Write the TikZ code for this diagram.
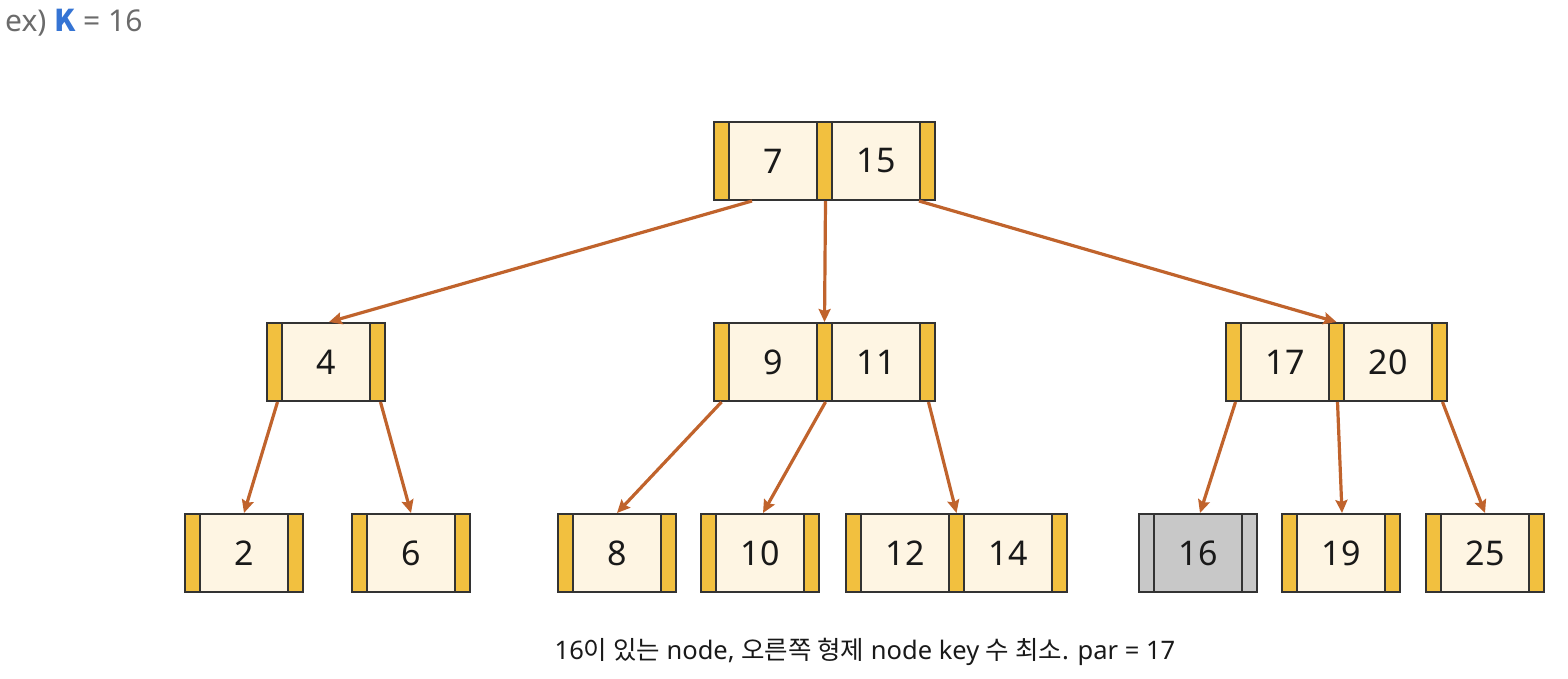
\documentclass[tikz,border=0pt]{standalone}
\usepackage{fontspec}
\setmainfont{Noto Sans}
\newfontfamily\kr{Noto Sans CJK KR}
\usetikzlibrary{arrows.meta}
\definecolor{barY}{HTML}{F2C03F}
\definecolor{cellC}{HTML}{FEF5E3}
\definecolor{edgeK}{HTML}{333333}
\definecolor{grayN}{HTML}{C8C8C8}
\definecolor{arrowC}{HTML}{C0632C}
\definecolor{headG}{HTML}{6B6B6B}
\definecolor{blueK}{HTML}{3574D4}
\tikzset{
  bar/.style={draw=edgeK, fill=barY, line width=2pt, minimum width=15pt, minimum height=78pt, inner sep=0pt, anchor=north west},
  cell/.style={draw=edgeK, fill=cellC, line width=2pt, minimum width=88pt, minimum height=78pt, inner sep=0pt, anchor=north west, font=\fontsize{34}{38}\selectfont, text=black!90},
  link/.style={draw=arrowC, line width=3.2pt, -{Stealth[length=13pt,width=12pt,inset=2pt]}},
}
\newcommand\onekey[5][]{%
  \node[bar,#1] (#2-b0) at (#3,#4) {};
  \node[cell,#1] (#2-k1) at ({#3+15},#4) {#5};
  \node[bar,#1] (#2-b1) at ({#3+103},#4) {};
}
\newcommand\twokey[5]{%
  \node[bar] (#1-b0) at (#2,#3) {};
  \node[cell] (#1-k1) at ({#2+15},#3) {#4};
  \node[bar] (#1-b1) at ({#2+103},#3) {};
  \node[cell] (#1-k2) at ({#2+118},#3) {#5};
  \node[bar] (#1-b2) at ({#2+206},#3) {};
}
\begin{document}
\begin{tikzpicture}[x=1pt,y=-1pt]
\useasboundingbox (0,0) rectangle (1568,678);
% header
\node[anchor=base west, inner sep=0pt, text=headG, font=\fontsize{30}{34}\selectfont] (hdr) at (5,31) {ex) {\color{blueK}\kr\bfseries K} = 16};
% level 1
\twokey{r}{713}{121}{7}{15}
% level 2
\onekey{a}{266}{322}{4}
\twokey{b}{713}{322}{9}{11}
\twokey{c}{1225}{322}{17}{20}
% level 3
\onekey{d}{184}{513}{2}
\onekey{e}{351}{513}{6}
\onekey{f}{557}{513}{8}
\onekey{g}{700}{513}{10}
\twokey{h}{845}{513}{12}{14}
\onekey[fill=grayN]{i}{1138}{513}{16}
\onekey{j}{1281}{513}{19}
\onekey{k}{1425}{513}{25}
% connectors
\draw[link] ([xshift=24pt]r-k1.south west) -- ([xshift=3pt]a-k1.north);
\draw[link] ([xshift=1pt]r-b1.south) -- (b-b1.north);
\draw[link] (r-b2.south west) -- (c-b1.north);
\draw[link] ([xshift=3pt]a-b0.south) -- (d-k1.north);
\draw[link] ([xshift=3pt]a-b1.south) -- (e-k1.north);
\draw[link] (b-b0.south) -- (f-k1.north);
\draw[link] ([xshift=1pt]b-b1.south) -- ([xshift=3pt]g-k1.north);
\draw[link] ([xshift=1pt]b-b2.south) -- (h-b1.north);
\draw[link] ([xshift=2pt]c-b0.south) -- ([xshift=2pt]i-k1.north);
\draw[link] ([xshift=1pt]c-b1.south) -- ([xshift=1pt]j-k1.north);
\draw[link] ([xshift=3pt]c-b2.south) -- (k-k1.north);
% caption
\node[anchor=base, inner sep=0pt, text=black!90, font=\fontsize{25.5}{30}\selectfont] (cap) at (865,659) {16{\kr 이 있는} node, {\kr 오른쪽 형제} node key {\kr 수 최소}. par = 17};
\end{tikzpicture}
\end{document}
